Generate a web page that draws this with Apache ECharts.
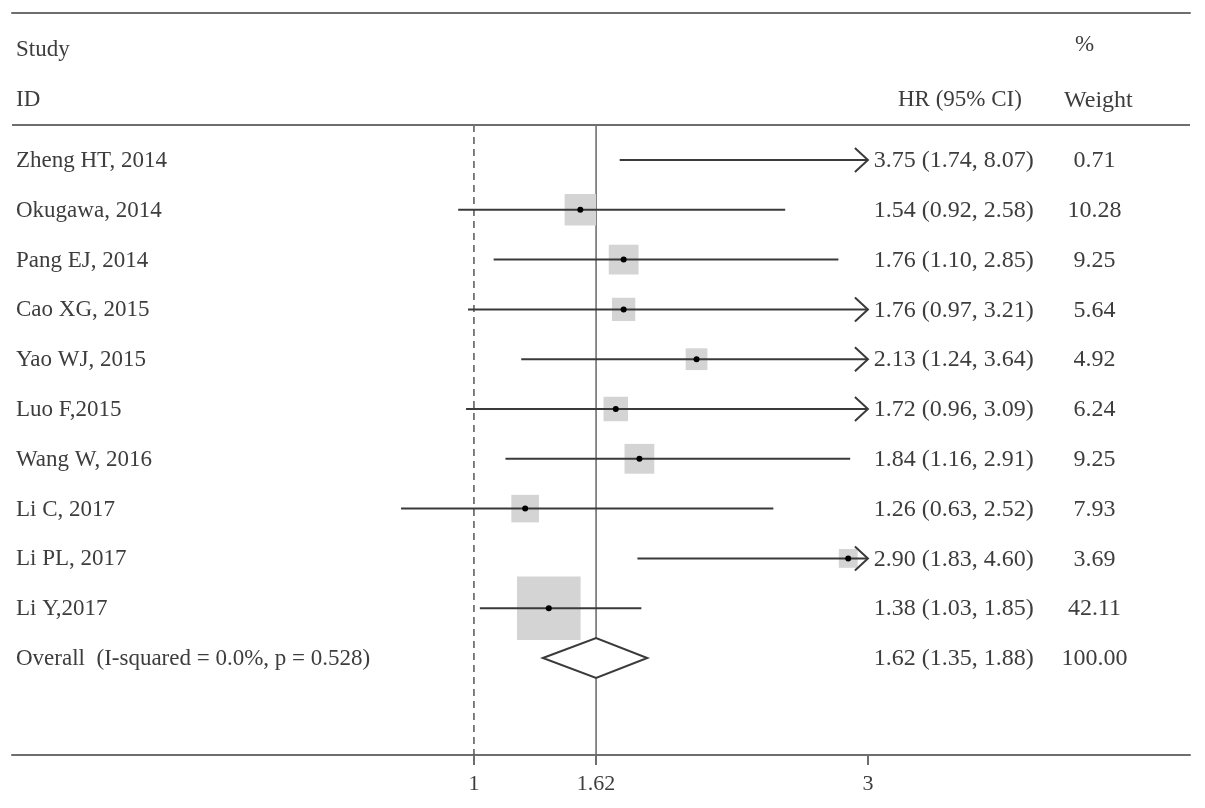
<!DOCTYPE html>
<html>
<head>
<meta charset="utf-8">
<script src="https://cdn.jsdelivr.net/npm/echarts@6/dist/echarts.min.js"></script>
<style>html,body{margin:0;padding:0;background:#fff;}#chart{width:1205px;height:808px;}</style>
</head>
<body>
<div id="chart"></div>
<script>
// ---- data ----
const studies = ['Zheng HT, 2014','Okugawa, 2014','Pang EJ, 2014','Cao XG, 2015','Yao WJ, 2015','Luo F,2015','Wang W, 2016','Li C, 2017','Li PL, 2017','Li Y,2017'];
const hr     = [3.75, 1.54, 1.76, 1.76, 2.13, 1.72, 1.84, 1.26, 2.90, 1.38];
const lower  = [1.74, 0.92, 1.10, 0.97, 1.24, 0.96, 1.16, 0.63, 1.83, 1.03];
const upper  = [8.07, 2.58, 2.85, 3.21, 3.64, 3.09, 2.91, 2.52, 4.60, 1.85];
const weight = [0.71, 10.28, 9.25, 5.64, 4.92, 6.24, 9.25, 7.93, 3.69, 42.11];
const overallLabel = 'Overall  (I-squared = 0.0%, p = 0.528)';
const overallHR = 1.62, overallLower = 1.35, overallUpper = 1.88, overallWeight = 100.00;
const xTicks = [1, 1.62, 3];
const nullValue = 1;
const clipMax = 3;

// ---- layout constants ----
const FONT = "'Liberation Serif','Times New Roman',serif";
const TXT = '#3d3d3d';
const LINE = '#3a3a3a';
const RULE = '#6e6e6e';
const xMin = -1.345, xMax = 4.635;
const yMin = -2.952, yMax = 11.948;
const headerRule = -0.703;
const hrColX = 3.03, wColX = 4.15;

const rows = studies.map((s, i) => [i, hr[i], lower[i], upper[i], weight[i]]);
const overallRow = studies.length;

const chart = echarts.init(document.getElementById('chart'));

function renderStudy(params, api) {
  const i = api.value(0), h = api.value(1), lo = api.value(2), hi = api.value(3), w = api.value(4);
  const y = api.coord([0, i])[1];
  const xl = api.coord([lo, i])[0];
  const xh = api.coord([Math.min(hi, clipMax), i])[0];
  const xc = api.coord([h, i])[0];
  const side = Math.sqrt(w) * 9.8;
  const ch = [];
  if (h <= clipMax) {
    ch.push({type: 'rect', shape: {x: xc - side / 2, y: y - side / 2, width: side, height: side}, style: {fill: '#d4d4d4'}});
  }
  ch.push({type: 'line', shape: {x1: xl, y1: y, x2: xh, y2: y}, style: {stroke: LINE, lineWidth: 2}});
  if (hi > clipMax) {
    ch.push({type: 'polyline', shape: {points: [[xh - 13, y - 12], [xh, y], [xh - 13, y + 12]]}, style: {stroke: LINE, lineWidth: 2, fill: 'none'}});
  }
  if (h <= clipMax) {
    ch.push({type: 'circle', shape: {cx: xc, cy: y, r: 3}, style: {fill: '#000'}});
  }
  return {type: 'group', children: ch};
}

function renderOverall(params, api) {
  const r = api.value(0), h = api.value(1), lo = api.value(2), hi = api.value(3);
  const pL = api.coord([lo, r]), pR = api.coord([hi, r]);
  const pT = api.coord([h, r - 0.4]), pB = api.coord([h, r + 0.4]);
  return {type: 'polygon', shape: {points: [pL, pT, pR, pB]}, style: {fill: '#fff', stroke: LINE, lineWidth: 2}};
}

function renderText(params, api) {
  const i = params.dataIndex;
  const isOverall = i === studies.length;
  const r = api.value(0);
  const y = api.coord([0, r])[1] + 1;
  const left = params.coordSys.x + 4;
  const h = api.value(1), lo = api.value(2), hi = api.value(3), w = api.value(4);
  const label = isOverall ? overallLabel : studies[i];
  const hrText = h.toFixed(2) + ' (' + lo.toFixed(2) + ', ' + hi.toFixed(2) + ')';
  const st = {fill: TXT, textVerticalAlign: 'middle'};
  return {type: 'group', children: [
    {type: 'text', style: Object.assign({}, st, {font: '23px ' + FONT, x: left, y: y, text: label, textAlign: 'left'})},
    {type: 'text', style: Object.assign({}, st, {font: '24px ' + FONT, x: api.coord([hrColX, r])[0], y: y, text: hrText, textAlign: 'left'})},
    {type: 'text', style: Object.assign({}, st, {font: '24px ' + FONT, x: api.coord([wColX, r])[0], y: y, text: w.toFixed(2), textAlign: 'center'})}
  ]};
}

const headers = [
  {text: 'Study', x: xMin, y: -2.21, align: 'left', size: 23},
  {text: 'ID', x: xMin, y: -1.2, align: 'left', size: 23},
  {text: 'HR (95% CI)', x: 3.467, y: -1.2, align: 'center', size: 23},
  {text: '%', x: 4.10, y: -2.31, align: 'center', size: 23},
  {text: 'Weight', x: 4.17, y: -1.2, align: 'center', size: 24}
];

function renderHeader(params, api) {
  const hd = headers[params.dataIndex];
  const p = api.coord([api.value(0), api.value(1)]);
  const x = hd.align === 'left' ? params.coordSys.x + 4 : p[0];
  return {type: 'text', style: {x: x, y: p[1], text: hd.text, textAlign: hd.align, textVerticalAlign: 'middle', font: hd.size + 'px ' + FONT, fill: TXT}};
}

const textData = rows.concat([[overallRow, overallHR, overallLower, overallUpper, overallWeight]]);

chart.setOption({
  animation: false,
  backgroundColor: '#fff',
  grid: {left: 12, right: 15, top: 13, bottom: 53, containLabel: false},
  xAxis: [{
    type: 'value', min: xMin, max: xMax, position: 'bottom',
    splitLine: {show: false},
    axisLine: {show: true, onZero: false, lineStyle: {color: RULE, width: 2}},
    axisTick: {show: true, customValues: xTicks, length: 10, lineStyle: {color: RULE, width: 2}},
    axisLabel: {show: true, customValues: xTicks, margin: 18, fontSize: 22, fontFamily: FONT, color: TXT,
      formatter: v => String(v)}
  }, {
    type: 'value', min: xMin, max: xMax, position: 'top',
    splitLine: {show: false},
    axisLine: {show: true, onZero: false, lineStyle: {color: RULE, width: 2}},
    axisTick: {show: false}, axisLabel: {show: false}
  }],
  yAxis: {
    type: 'value', min: yMin, max: yMax, inverse: true, show: false
  },
  series: [
    {
      type: 'line', data: [[nullValue, headerRule], [nullValue, yMax]], symbol: 'none', silent: true,
      lineStyle: {color: '#555', width: 1.5, type: [7, 5]}, z: 1,
      markLine: {silent: true, symbol: 'none', label: {show: false},
        lineStyle: {color: RULE, width: 2, type: 'solid'},
        data: [{yAxis: headerRule}]}
    },
    {
      type: 'line', data: [[overallHR, headerRule], [overallHR, yMax]], symbol: 'none', silent: true,
      lineStyle: {color: '#666', width: 1.5}, z: 1
    },
    {type: 'custom', renderItem: renderStudy, data: rows, clip: false, z: 3, silent: true},
    {type: 'custom', renderItem: renderOverall, data: [[overallRow, overallHR, overallLower, overallUpper]], clip: false, z: 3, silent: true},
    {type: 'custom', renderItem: renderText, data: textData, clip: false, z: 4, silent: true},
    {type: 'custom', renderItem: renderHeader, data: headers.map(h => [h.x, h.y]), clip: false, z: 4, silent: true}
  ]
});
</script>
</body>
</html>
